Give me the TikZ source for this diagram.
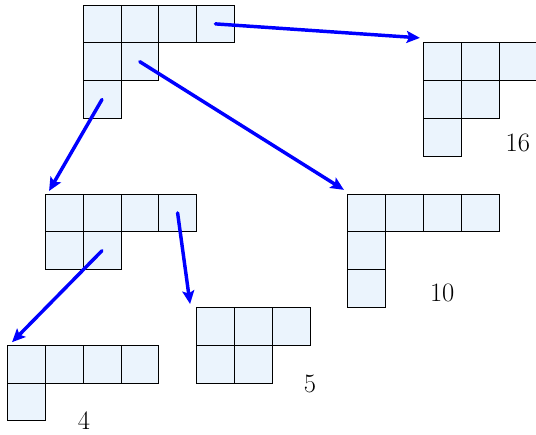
\documentclass[tikz,border=0pt]{standalone}
\usetikzlibrary{arrows.meta}
\definecolor{cellfill}{RGB}{235,244,253}
\tikzset{
  cell/.style={fill=cellfill, draw=black, line width=0.6pt},
  move/.style={draw=blue, line width=2.6pt, line cap=round, -{Stealth[length=10pt,width=9pt,inset=2pt]}},
  lbl/.style={font=\fontsize{20}{24}\selectfont, inner sep=0pt}
}
\newcommand{\ydiag}[3]{%
  \foreach \len [count=\r from 0] in {#3} {
    \foreach \c in {1,...,\len} {
      \draw[cell] ({#1+\c-1},{#2+\r}) rectangle ++(1,1);
    }
  }
}
\begin{document}
\begin{tikzpicture}[x=1cm,y=-1cm]
  \useasboundingbox (-0.198,-0.132) rectangle (13.98,11.35);
  % Young diagrams
  \ydiag{2}{0}{4,2,1}
  \ydiag{11}{1}{3,2,1}
  \ydiag{1}{5}{4,2}
  \ydiag{9}{5}{4,1,1}
  \ydiag{5}{8}{3,2}
  \ydiag{0}{9}{4,1}
  % labels
  \node[lbl] (n16) at (13.5,3.65) {16};
  \node[lbl] (n10) at (11.5,7.62) {10};
  \node[lbl] (n5) at (8.0,10.03) {5};
  \node[lbl] (n4) at (2.02,11.0) {4};
  % connector ends
  \coordinate (s1) at (5.5,0.5);
  \coordinate (e1) at (10.91,0.87);
  \coordinate (s2) at (3.5,1.5);
  \coordinate (e2) at (8.9,4.89);
  \coordinate (s3) at (2.5,2.5);
  \coordinate (e3) at (1.1,4.92);
  \coordinate (s4) at (4.5,5.5);
  \coordinate (e4) at (4.83,7.91);
  \coordinate (s5) at (2.5,6.5);
  \coordinate (e5) at (0.12,8.92);
  \draw[move] (s1) -- (e1);
  \draw[move] (s2) -- (e2);
  \draw[move] (s3) -- (e3);
  \draw[move] (s4) -- (e4);
  \draw[move] (s5) -- (e5);
\end{tikzpicture}
\end{document}
